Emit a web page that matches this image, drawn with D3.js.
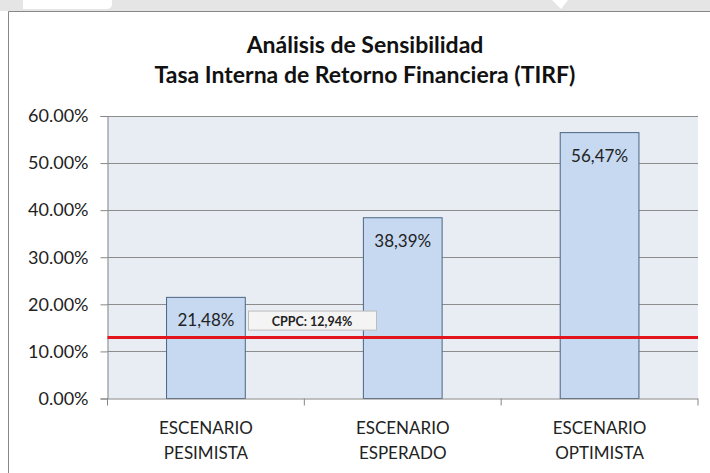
<!DOCTYPE html>
<html>
<head>
<meta charset="utf-8">
<script src="https://cdn.jsdelivr.net/npm/d3@7/dist/d3.min.js"></script>
<style>
  html, body { margin: 0; padding: 0; background: #ffffff; overflow: hidden; width: 710px; height: 473px; }
  svg { position: fixed; left: 0; top: 0; display: block; font-family: Lato, "Open Sans", sans-serif; }
</style>
</head>
<body>
<svg id="chart" width="710" height="473"></svg>
<script>
// Scenario data (TIRF, %)
const categories = [["ESCENARIO", "PESIMISTA"], ["ESCENARIO", "ESPERADO"], ["ESCENARIO", "OPTIMISTA"]];
const values = [21.48, 38.39, 56.47];
const valueLabels = ["21,48%", "38,39%", "56,47%"];
const yTicks = [0, 10, 20, 30, 40, 50, 60];
const cppcValue = 12.94;
const cppcLabel = "CPPC: 12,94%";
const titleLines = ["Análisis de Sensibilidad", "Tasa Interna de Retorno Financiera (TIRF)"];

const svg = d3.select("#chart");
const W = 710, H = 473;

// Page strip above the chart frame
svg.append("rect").attr("x", 0).attr("y", 0).attr("width", W).attr("height", 11).attr("fill", "#e5e5e5");
svg.append("path").attr("d", "M23,0 L112,0 L112,4 Q112,9 106,9 L23,9 Z").attr("fill", "#ffffff");
svg.append("path").attr("d", "M552,0 L568,0 L561,9 Z").attr("fill", "#ffffff");

// Chart frame (left and top edges are the ones inside the page)
svg.append("rect").attr("x", 9).attr("y", 12).attr("width", W - 9).attr("height", H - 12)
  .attr("fill", "#ffffff");
svg.append("polyline").attr("points", `8.5,${H} 8.5,11.5 ${W},11.5`)
  .attr("fill", "none").attr("stroke", "#878787").attr("stroke-width", 1);

// Title
const title = svg.append("g").attr("text-anchor", "middle").attr("font-weight", "bold")
  .attr("font-size", 23).attr("fill", "#111");
titleLines.forEach((t, i) => {
  title.append("text").attr("x", 365).attr("y", 53 + i * 30).text(t);
});

const plot = { left: 107.5, right: 698, top: 116, bottom: 398.5 };

const x = d3.scaleBand()
  .domain(categories.map((d, i) => i))
  .range([plot.left, plot.right])
  .paddingInner(0.6)
  .paddingOuter(0.3);

const y = d3.scaleLinear().domain([0, 60]).range([plot.bottom, plot.top]);

// Plot background
svg.append("rect").attr("x", plot.left).attr("y", plot.top)
  .attr("width", plot.right - plot.left).attr("height", plot.bottom - plot.top)
  .attr("fill", "#e8ecf3");

// Gridlines
svg.append("g").selectAll("line").data(yTicks.filter(d => d > 0)).join("line")
  .attr("x1", plot.left).attr("x2", plot.right)
  .attr("y1", d => Math.round(y(d)) + 0.5).attr("y2", d => Math.round(y(d)) + 0.5)
  .attr("stroke", "#8c8c8c").attr("stroke-width", 1);

// Y axis
const yAxis = d3.axisLeft(y).tickValues(yTicks).tickSize(7).tickPadding(12)
  .tickFormat(d => d.toFixed(2) + "%");
const gy = svg.append("g").attr("transform", `translate(${plot.left},0)`).call(yAxis);
gy.select(".domain").attr("stroke", "#868686");
gy.selectAll(".tick line").attr("stroke", "#868686");
gy.selectAll(".tick text").attr("font-size", 18).attr("fill", "#222").attr("font-family", "Lato, sans-serif");

// Bars
svg.append("g").selectAll("rect").data(values).join("rect")
  .attr("x", (d, i) => x(i)).attr("width", x.bandwidth())
  .attr("y", d => y(d)).attr("height", d => y(0) - y(d))
  .attr("fill", "#c6d9f1").attr("stroke", "#4a6584").attr("stroke-width", 1);

// Bar value labels
svg.append("g").selectAll("text").data(values).join("text")
  .attr("x", (d, i) => x(i) + x.bandwidth() / 2)
  .attr("y", d => y(d) + 29)
  .attr("text-anchor", "middle").attr("font-size", 17).attr("fill", "#222")
  .text((d, i) => valueLabels[i]);

// X axis (ticks on category boundaries)
const gx = svg.append("g").attr("transform", `translate(0,${plot.bottom})`);
gx.append("line").attr("x1", plot.left).attr("x2", plot.right).attr("y1", 0.5).attr("y2", 0.5)
  .attr("stroke", "#868686");
const bounds = [0, 1, 2, 3].map(i => plot.left + i * x.step());
gx.selectAll("line.tk").data(bounds).join("line").attr("class", "tk")
  .attr("x1", d => d).attr("x2", d => d).attr("y1", 0).attr("y2", 7)
  .attr("stroke", "#868686");
const cat = gx.selectAll("text").data(categories).join("text")
  .attr("text-anchor", "middle").attr("font-size", 17).attr("fill", "#222")
  .attr("transform", (d, i) => `translate(${x(i) + x.bandwidth() / 2},0)`);
cat.selectAll("tspan").data(d => d).join("tspan")
  .attr("x", 0).attr("y", (d, j) => 35 + j * 25).text(d => d);

// CPPC reference line
const yc = y(cppcValue);
svg.append("line").attr("x1", plot.left).attr("x2", plot.right)
  .attr("y1", yc).attr("y2", yc).attr("stroke", "#e3141b").attr("stroke-width", 3);

// CPPC label box
svg.append("rect").attr("x", 248.5).attr("y", yc - 26.5).attr("width", 128).attr("height", 19)
  .attr("fill", "#f4f4f4").attr("stroke", "#bdbdbd").attr("stroke-width", 1);
svg.append("text").attr("x", 312).attr("y", yc - 12).attr("text-anchor", "middle")
  .attr("font-size", 12.5).attr("font-weight", "bold").attr("fill", "#222").text(cppcLabel);
</script>
</body>
</html>
